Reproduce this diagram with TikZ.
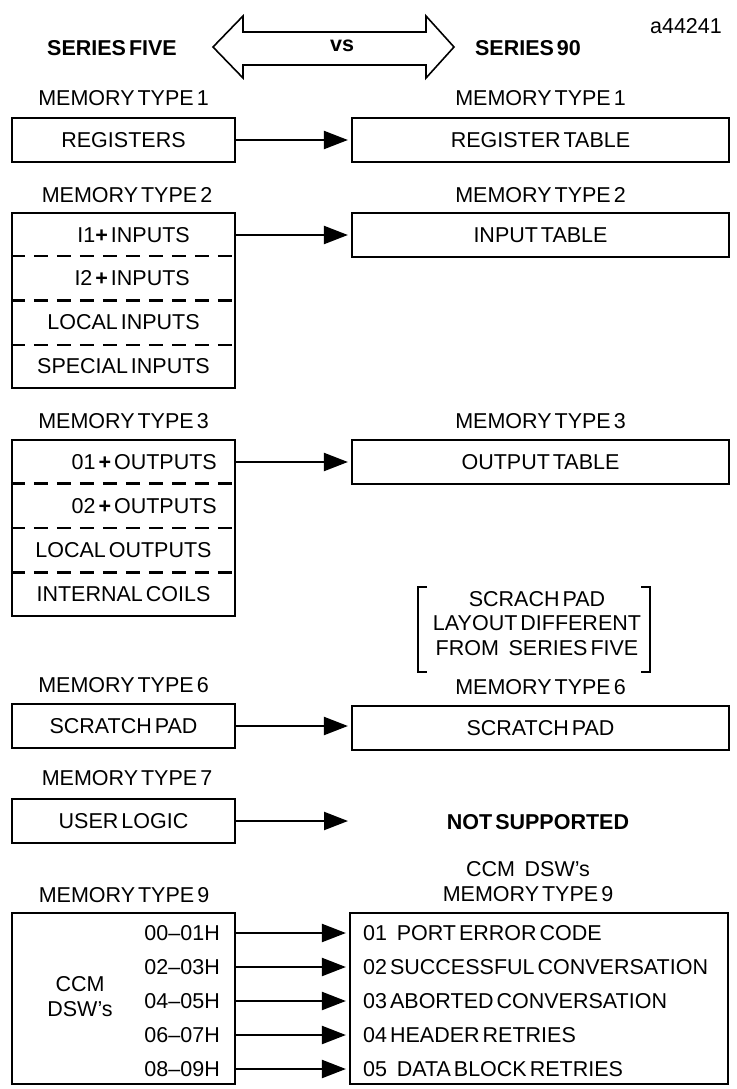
\documentclass[tikz,border=0pt]{standalone}
\usepackage{fontspec}
\setmainfont{Liberation Sans}[WordSpace=0.5]
\usetikzlibrary{arrows.meta,calc}

\begin{document}
\begin{tikzpicture}[x=1pt, y=-1pt,
  every node/.style={font=\fontsize{21.5}{25}\selectfont, inner sep=0pt},
  head/.style={font=\fontsize{21.5}{25}\selectfont\bfseries},
  lbox/.style={draw, line width=2.2pt, minimum width=223pt, minimum height=44pt},
  rbox/.style={draw, line width=2.2pt, minimum width=377pt, minimum height=44pt},
  link/.style={line width=2.2pt, -{Triangle[length=24pt, width=18pt]}, shorten >=3pt},
  sep/.style={line width=2.2pt, dash pattern=on 14pt off 9pt}]
  \useasboundingbox (0,0) rectangle (736,1089);

  \node (tag) at (686,26) {a44241};
  \node [head] (five) at (112,48) {SERIES FIVE};
  \node [head] (ninety) at (528,48) {SERIES 90};
  \draw [line width=1.6pt] (213,47) -- (243,16) -- (243,32) -- (426,32) -- (426,16)
    -- (454,47) -- (426,78) -- (426,65) -- (243,65) -- (243,78) -- cycle;
  \node [head] (vs) at (342,46) {vs};

  % memory type 1
  \node (l1) at (123.5,98) {MEMORY TYPE 1};
  \node (r1) at (540.5,98) {MEMORY TYPE 1};
  \node [lbox] (reg) at (123.5,140) {REGISTERS};
  \node [rbox] (regtab) at (540.5,140) {REGISTER TABLE};
  \draw [link] (reg) -- (regtab);

  % memory type 2
  \node (l2) at (127,195) {MEMORY TYPE 2};
  \node (r2) at (540.5,195) {MEMORY TYPE 2};
  \node [lbox, minimum height=175pt] (inp) at (123.5,300.5) {};
  \foreach \f in {0.25,0.5,0.75}
    \draw [sep] ($(inp.north west)!\f!(inp.south west)$) -- ($(inp.north east)!\f!(inp.south east)$);
  \node [anchor=east] (i1) at (190,235) {I1\textbf{+} INPUTS};
  \node [anchor=east] (i2) at (190,278.5) {I2 \textbf{+} INPUTS};
  \node (loci) at (123.5,322.5) {LOCAL INPUTS};
  \node (speci) at (123.5,366) {SPECIAL INPUTS};
  \node [rbox] (intab) at (540.5,235) {INPUT TABLE};
  \draw [link] (i1 -| inp.east) -- (intab);

  % memory type 3
  \node (l3) at (123.5,421) {MEMORY TYPE 3};
  \node (r3) at (540.5,421) {MEMORY TYPE 3};
  \node [lbox, minimum height=176pt] (outp) at (123.5,528) {};
  \foreach \f in {0.25,0.5,0.75}
    \draw [sep] ($(outp.north west)!\f!(outp.south west)$) -- ($(outp.north east)!\f!(outp.south east)$);
  \node [anchor=east] (o1) at (217,462) {01 \textbf{+} OUTPUTS};
  \node [anchor=east] (o2) at (217,506) {02 \textbf{+} OUTPUTS};
  \node (loco) at (123.5,550) {LOCAL OUTPUTS};
  \node (coils) at (123.5,594) {INTERNAL COILS};
  \node [rbox] (outtab) at (540.5,462) {OUTPUT TABLE};
  \draw [link] (o1 -| outp.east) -- (outtab);

  % note on scratch pad
  \node [align=center, font=\fontsize{21.5}{24.5}\selectfont] (note) at (537,623.5)
    {SCRACH PAD\\LAYOUT DIFFERENT\\FROM\hspace{0.45em}SERIES FIVE};
  \draw [line width=2.2pt] (427,587) -| (418,672) -- (427,672);
  \draw [line width=2.2pt] (641,587) -| (650,672) -- (641,672);

  % memory type 6
  \node (l6) at (123.5,685) {MEMORY TYPE 6};
  \node (r6) at (540.5,687) {MEMORY TYPE 6};
  \node [lbox] (pad) at (123.5,726) {SCRATCH PAD};
  \node [rbox] (padtab) at (540.5,728) {SCRATCH PAD};
  \draw [link] (pad) -- (pad -| padtab.west);

  % memory type 7
  \node (l7) at (127,778) {MEMORY TYPE 7};
  \node [lbox] (logic) at (123.5,821) {USER LOGIC};
  \coordinate (nosup) at (351,821);
  \draw [link] (logic) -- (nosup);
  \node [head] (nstxt) at (538,822) {NOT SUPPORTED};

  % memory type 9
  \node (l9) at (124,895) {MEMORY TYPE 9};
  \node [align=center] (r9) at (528,882) {CCM\hspace{0.45em}DSW’s\\MEMORY TYPE 9};
  \node [lbox, minimum height=171pt] (ccm) at (123.5,998.5) {};
  \node [rbox, minimum width=378pt, minimum height=171pt] (dsw) at (539,998.5) {};
  \node [align=center] (ccmtxt) at (80,997) {CCM\\DSW’s};
  \foreach \h/\t [count=\i] in {00--01H/01\hspace{0.45em}PORT ERROR CODE,
      02--03H/02 SUCCESSFUL CONVERSATION, 04--05H/03 ABORTED CONVERSATION,
      06--07H/04 HEADER RETRIES, 08--09H/05\hspace{0.45em}DATA BLOCK RETRIES} {
    \node [anchor=east] (hex\i) at (220,899+34*\i) {\h};
    \node [anchor=west] (word\i) at (363,899+34*\i) {\t};
    \draw [link] (hex\i -| ccm.east) -- (hex\i -| dsw.west);
  }
\end{tikzpicture}
\end{document}
